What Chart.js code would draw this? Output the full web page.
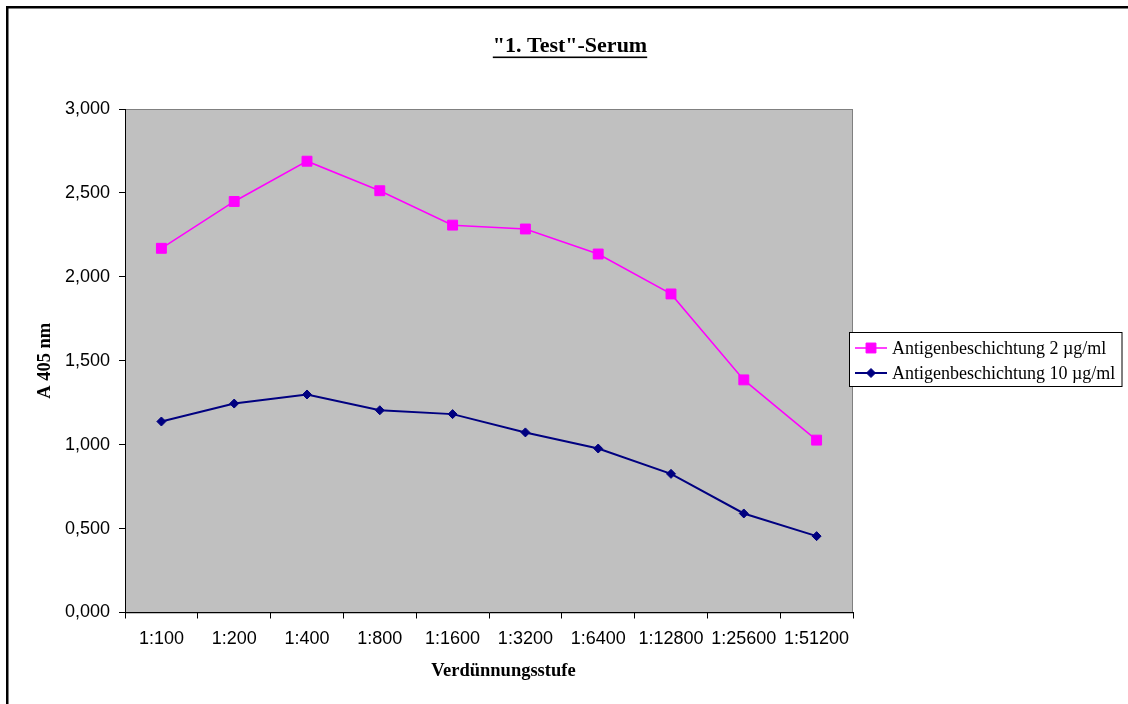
<!DOCTYPE html>
<html>
<head>
<meta charset="utf-8">
<script src="https://cdn.jsdelivr.net/npm/chart.js@4/dist/chart.umd.min.js"></script>
<style>
  html, body { margin: 0; padding: 0; background: #fff; }
  canvas { display: block; }
</style>
</head>
<body>
<canvas id="c" width="1128" height="704"></canvas>
<script>
// Verdünnungsstufen
const categories = ['1:100', '1:200', '1:400', '1:800', '1:1600', '1:3200', '1:6400', '1:12800', '1:25600', '1:51200'];

// Extinktion bei 405 nm
const coating2 = [2.170, 2.449, 2.689, 2.513, 2.308, 2.285, 2.136, 1.898, 1.386, 1.027];
const coating10 = [1.138, 1.245, 1.299, 1.205, 1.182, 1.073, 0.977, 0.826, 0.590, 0.455];

const seriesNames = ['Antigenbeschichtung 2 µg/ml', 'Antigenbeschichtung 10 µg/ml'];
const chartTitle = '"1. Test"-Serum';
const yTitle = 'A 405 nm';
const xTitle = 'Verdünnungsstufe';

const SERIF = '"Liberation Serif", "Times New Roman", serif';
const SANS = '"Liberation Sans", Arial, sans-serif';

// Outer frame, grey plot background and border
const frame = {
  id: 'frame',
  beforeDraw(chart) {
    const { ctx, chartArea: a } = chart;
    ctx.save();
    ctx.fillStyle = '#ffffff';
    ctx.fillRect(0, 0, chart.width, chart.height);
    ctx.fillStyle = '#000000';
    ctx.fillRect(6, 6, chart.width - 6, 2.5);
    ctx.fillRect(6, 6, 2.5, chart.height - 6);
    ctx.fillStyle = '#c0c0c0';
    ctx.fillRect(a.left, a.top, a.right - a.left, a.bottom - a.top);
    ctx.strokeStyle = '#808080';
    ctx.lineWidth = 1;
    ctx.strokeRect(a.left + 0.5, a.top + 0.5, a.right - a.left - 1, a.bottom - a.top);
    ctx.restore();
  }
};

// Underlined heading and the category axis caption
const heading = {
  id: 'heading',
  afterDraw(chart) {
    const { ctx } = chart;
    ctx.save();
    ctx.font = 'bold 22px ' + SERIF;
    ctx.fillStyle = '#000';
    ctx.textAlign = 'center';
    ctx.textBaseline = 'alphabetic';
    const cx = 570, base = 52;
    ctx.fillText(chartTitle, cx, base);
    const w = ctx.measureText(chartTitle).width;
    ctx.fillRect(cx - w / 2, base + 4.5, w, 1.6);

    ctx.font = 'bold 18.5px ' + SERIF;
    ctx.textBaseline = 'middle';
    ctx.fillText(xTitle, 503.5, 671);
    ctx.restore();
  }
};

// Boxed legend on the right
const boxLegend = {
  id: 'boxLegend',
  afterDraw(chart) {
    const { ctx } = chart;
    const x0 = 849.5, y0 = 332.5, w = 272.5, h = 54;
    ctx.save();
    ctx.fillStyle = '#ffffff';
    ctx.fillRect(x0, y0, w, h);
    ctx.strokeStyle = '#000000';
    ctx.lineWidth = 1;
    ctx.strokeRect(x0, y0, w, h);
    ctx.font = '18px ' + SERIF;
    ctx.textBaseline = 'middle';
    ctx.textAlign = 'left';
    chart.data.datasets.forEach((ds, i) => {
      const y = 348 + i * 25;
      ctx.strokeStyle = ds.borderColor;
      ctx.lineWidth = ds.borderWidth;
      ctx.beginPath();
      ctx.moveTo(855, y);
      ctx.lineTo(887, y);
      ctx.stroke();
      ctx.fillStyle = ds.pointBackgroundColor;
      ctx.strokeStyle = ds.pointBorderColor;
      ctx.lineWidth = 1;
      Chart.helpers.drawPoint(ctx, { pointStyle: ds.pointStyle, radius: ds.pointRadius, rotation: 0, borderWidth: 1 }, 871, y);
      ctx.fillStyle = '#000';
      ctx.fillText(ds.label, 892, y + 1);
    });
    ctx.restore();
  }
};

new Chart(document.getElementById('c'), {
  type: 'line',
  data: {
    labels: categories,
    datasets: [
      {
        label: seriesNames[0],
        data: coating2,
        borderColor: '#ff00ff',
        borderWidth: 1.5,
        pointStyle: 'rect',
        pointRadius: 7,
        pointBackgroundColor: '#ff00ff',
        pointBorderColor: '#ff00ff',
        pointBorderWidth: 1,
        tension: 0
      },
      {
        label: seriesNames[1],
        data: coating10,
        borderColor: '#000080',
        borderWidth: 2,
        pointStyle: 'rectRot',
        pointRadius: 4.5,
        pointBackgroundColor: '#000080',
        pointBorderColor: '#000080',
        pointBorderWidth: 1,
        tension: 0
      }
    ]
  },
  options: {
    responsive: false,
    animation: false,
    layout: { padding: { left: 34, top: 109, right: 275, bottom: 22 } },
    plugins: {
      legend: { display: false },
      title: { display: false },
      tooltip: { enabled: false }
    },
    scales: {
      x: {
        offset: true,
        grid: { offset: true, drawOnChartArea: false, drawTicks: true, tickLength: 6, color: '#000', lineWidth: 1 },
        border: { display: true, color: '#000', width: 1 },
        ticks: { color: '#000', font: { family: SANS, size: 18 }, padding: 10, maxRotation: 0, autoSkip: false },
        title: { display: false },
        afterFit(scale) { scale.height = 69.5; }
      },
      y: {
        min: 0,
        max: 3,
        grid: { drawOnChartArea: false, drawTicks: true, tickLength: 6, color: '#000', lineWidth: 1 },
        border: { display: true, color: '#000', width: 1 },
        ticks: {
          stepSize: 0.5,
          color: '#000',
          font: { family: SANS, size: 18 },
          padding: 9,
          callback: v => v.toFixed(3).replace('.', ',')
        },
        title: { display: true, text: yTitle, color: '#000', font: { family: SERIF, size: 18.5, weight: 'bold' }, padding: 0 },
        afterFit(scale) { scale.width = 91; }
      }
    }
  },
  plugins: [frame, heading, boxLegend]
});
</script>
</body>
</html>
